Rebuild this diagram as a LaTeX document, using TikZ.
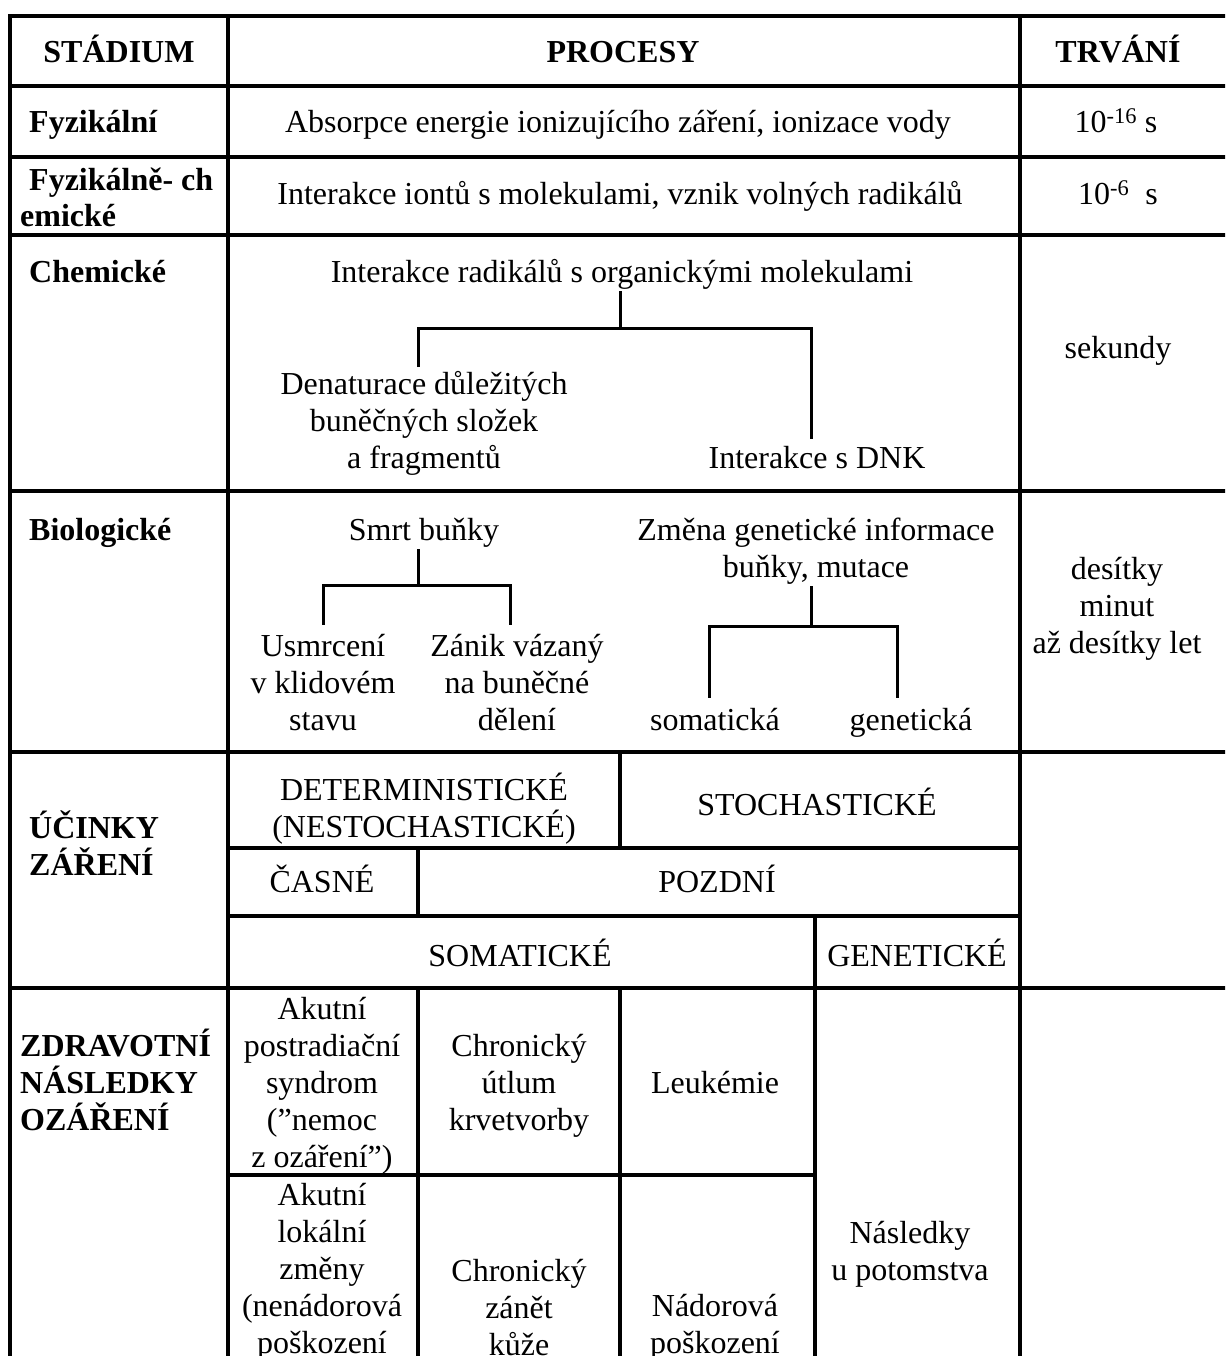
\documentclass[tikz,border=0pt]{standalone}
\usepackage{fontspec}
\setmainfont{Liberation Serif}
\begin{document}
\begin{tikzpicture}[x=1pt, y=-1pt,
		grid/.style={line width=3.2pt, black},
		tree/.style={line width=3pt, black},
		txt/.style={font=\fontsize{32}{36.8}\selectfont, align=center, inner sep=2pt, anchor=base},
		bold/.style={txt, font=\fontsize{32}{36.8}\selectfont\bfseries},
		stage/.style={bold, anchor=base west, align=left, inner sep=0pt}]
	\clip (0, 0) rectangle (1225, 1356);

	% table
	\draw[grid]	(1230, 16) -- (10, 16) -- (10, 1360);
	\draw[grid]	(228, 16) -- (228, 1360);
	\draw[grid]	(1020, 16) -- (1020, 1360);
	\foreach \y in {86, 157, 235, 491, 752, 988}
		\draw[grid]	(10, \y) -- (1230, \y);
	\draw[grid]	(228, 848) -- (1020, 848);
	\draw[grid]	(228, 916) -- (1020, 916);
	\draw[grid]	(228, 1175) -- (815, 1175);
	\draw[grid]	(620, 752) -- (620, 848);
	\draw[grid]	(418, 848) -- (418, 916);
	\draw[grid]	(815, 916) -- (815, 1360);
	\draw[grid]	(418, 988) -- (418, 1360);
	\draw[grid]	(620, 988) -- (620, 1360);

	% header
	\node[bold] (hstage) at (119, 63) {STÁDIUM};
	\node[bold] (hproc) at (623, 63) {PROCESY};
	\node[bold] (htime) at (1118, 63) {TRVÁNÍ};

	% stages (base = last line)
	\node[stage] (sfyz) at (29, 133) {Fyzikální};
	\node[txt] (pfyz) at (618, 133) {Absorpce energie ionizujícího záření, ionizace vody};
	\node[txt] (tfyz) at (1116, 133) {10\textsuperscript{-16} s};

	\node[stage] (sfch) at (20, 227) {\hspace{9pt}Fyzikálně- ch\\emické};
	\node[txt] (pfch) at (620, 205) {Interakce iontů s molekulami, vznik volných radikálů};
	\node[txt] (tfch) at (1118, 205) {10\textsuperscript{-6}\ \ s};

	\node[stage] (schem) at (29, 282) {Chemické};
	\node[txt] (radik) at (622, 282) {Interakce radikálů s organickými molekulami};
	\node[txt] (denat) at (424, 468) {Denaturace důležitých\\buněčných složek\\a fragmentů};
	\node[txt] (dnk) at (817, 468) {Interakce s DNK};
	\node[txt] (tchem) at (1118, 358) {sekundy};

	\node[stage] (sbio) at (29, 540) {Biologické};
	\node[txt] (smrt) at (424, 540) {Smrt buňky};
	\node[txt] (usmr) at (323, 730) {Usmrcení\\v klidovém\\stavu};
	\node[txt] (zanik) at (517, 730) {Zánik vázaný\\na buněčné\\dělení};
	\node[txt] (mut) at (816, 577) {Změna genetické informace\\buňky, mutace};
	\node[txt] (soma) at (715, 730) {somatická};
	\node[txt] (gene) at (911, 730) {genetická};
	\node[txt] (tbio) at (1117, 653) {desítky\\minut\\až desítky let};

	% effects
	\node[stage] (sucin) at (29, 875) {ÚČINKY\\ZÁŘENÍ};
	\node[txt] (determ) at (424, 837) {DETERMINISTICKÉ\\(NESTOCHASTICKÉ)};
	\node[txt] (stoch) at (817, 815) {STOCHASTICKÉ};
	\node[txt] (casne) at (322, 892) {ČASNÉ};
	\node[txt] (pozdni) at (717, 892) {POZDNÍ};
	\node[txt] (somat) at (520, 966) {SOMATICKÉ};
	\node[txt] (genet) at (917, 966) {GENETICKÉ};

	% health
	\node[stage] (szdr) at (20, 1130) {ZDRAVOTNÍ\\NÁSLEDKY\\OZÁŘENÍ};
	\node[txt] (akut) at (322, 1167) {Akutní\\postradiační\\syndrom\\(”nemoc\\z ozáření”)};
	\node[txt] (utlum) at (519, 1130) {Chronický\\útlum\\krvetvorby};
	\node[txt] (leuk) at (715, 1093) {Leukémie};
	\node[txt] (lokal) at (322, 1353) {Akutní\\lokální\\změny\\(nenádorová\\poškození};
	\node[txt] (zanet) at (519, 1355) {Chronický\\zánět\\kůže};
	\node[txt] (nador) at (715, 1353) {Nádorová\\poškození};
	\node[txt] (potom) at (910, 1280) {Následky\\u potomstva};

	% trees
	\draw[tree]	([xshift=-2pt]radik.south) -- ++(0, 37) coordinate (chemfork);
	\draw[tree]	([xshift=-6pt, yshift=2pt]denat.north) |- (chemfork) -| ([xshift=-6pt, yshift=5pt]dnk.north);
	\draw[tree]	([xshift=-6pt]smrt.south) -- ++(0, 36) coordinate (smrtfork);
	\draw[tree]	([yshift=7pt]usmr.north) |- (smrtfork) -| ([xshift=-7pt, yshift=7pt]zanik.north);
	\draw[tree]	([xshift=-5pt]mut.south) -- ++(0, 40) coordinate (mutfork);
	\draw[tree]	([xshift=-6pt, yshift=8pt]soma.north) |- (mutfork) -| ([xshift=-14pt, yshift=8pt]gene.north);
\end{tikzpicture}
\end{document}
